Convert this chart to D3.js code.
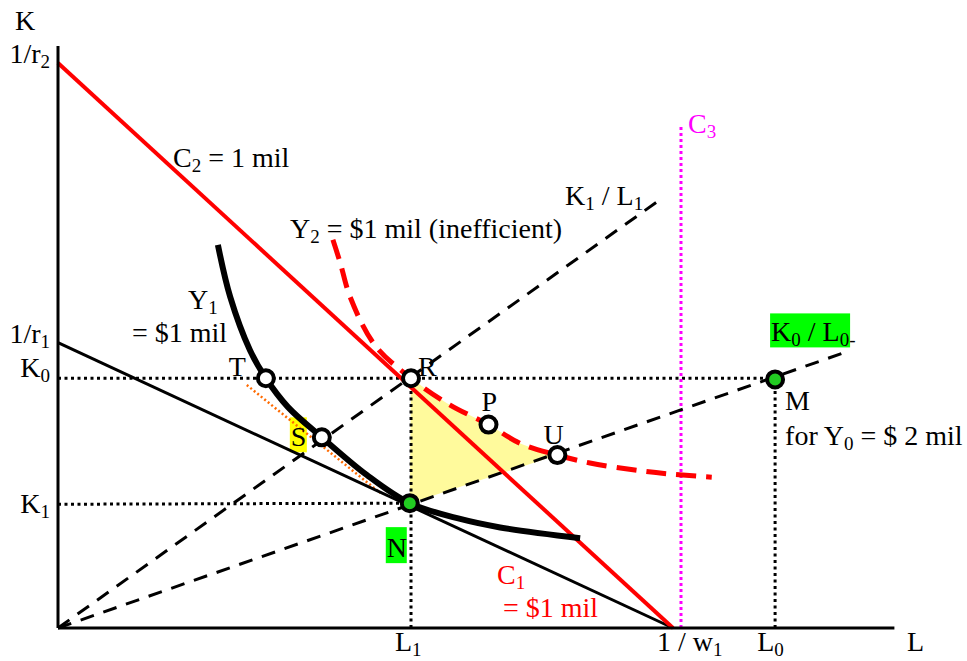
<!DOCTYPE html>
<html>
<head>
<meta charset="utf-8">
<script src="https://cdn.jsdelivr.net/npm/d3@7"></script>
<style>
  body { margin: 0; background: #fff; }
</style>
</head>
<body>
<div class="diagram"></div>
<script>
var width = 967, height = 661;
var serif = '"Liberation Serif", "Times New Roman", Times, "DejaVu Serif", serif';

// axis extents and intercepts (L and K units)
var lMax = 13.6, kMax = 10.3;
var wInv1 = 10, rInv2 = 10, rInv1 = 5.05;
var K0 = 4.42, K1 = 2.19, L1 = 5.74, L0 = 11.63, C3 = 10.13;

// named points
var T = [3.38, 4.42], R = [5.74, 4.42], S = [4.29, 3.375], N = [5.72, 2.21],
    P = [7.0, 3.6], U = [8.12, 3.06], M = [11.66, 4.40];

// isoquant Y1 = $1 mil
var y1Curve = [[2.60, 6.78], [2.80, 5.86], [3.12, 4.92], T, [3.74, 3.91], S,
  [5.02, 2.71], N, [6.54, 1.93], [7.19, 1.78], [8.49, 1.59]];

// isoquant Y2 = $1 mil (inefficient)
var y2Curve = [[4.47, 6.87], [4.59, 6.46], [4.75, 5.86], [5.15, 5.01], R,
  [6.37, 3.95], P, [7.51, 3.27], U, [8.65, 2.92], [9.35, 2.80], [9.90, 2.73], [10.63, 2.67]];
var y2Shade = [R, [6.37, 3.95], P, [7.51, 3.27], U];

// rays from the origin
var rayK1L1 = [[0, 0], [9.75, 7.55]];
var rayK0L0 = [[0, 0], [12.8, 4.88]];
var tangentS = [[3.07, 4.30], [5.24, 2.39]];

var kTicks = [
  { value: rInv2, parts: [['1/r'], ['2', 1]] },
  { value: rInv1, parts: [['1/r'], ['1', 1]] },
  { value: K0, parts: [['K'], ['0', 1]] },
  { value: K1, parts: [['K'], ['1', 1]] }
];
var lTicks = [
  { value: L1, parts: [['L'], ['1', 1]] },
  { value: wInv1, parts: [['1 / w'], ['1', 1]] },
  { value: L0, parts: [['L'], ['0', 1]] }
];

var x = d3.scaleLinear().domain([0, 10]).range([58, 673]);
var y = d3.scaleLinear().domain([0, 10]).range([628, 63]);

var svg = d3.select('.diagram')
  .append('svg')
  .attr('width', width)
  .attr('height', height);

var line = d3.line().x(function(d) { return x(d[0]); }).y(function(d) { return y(d[1]); });
var smooth = d3.line().x(function(d) { return x(d[0]); }).y(function(d) { return y(d[1]); })
  .curve(d3.curveCatmullRom.alpha(0.5));

function seg(p, q, color, w, dash) {
  return svg.append('path')
    .attr('d', line([p, q]))
    .attr('stroke', color)
    .attr('stroke-width', w)
    .attr('fill', 'none')
    .attr('stroke-dasharray', dash || null);
}

function label(px, py, parts, color, anchor) {
  var t = svg.append('text')
    .attr('x', px).attr('y', py)
    .attr('font-family', serif)
    .attr('font-size', 28)
    .attr('fill', color || '#000')
    .attr('text-anchor', anchor || 'start');
  var down = false;
  parts.forEach(function(p) {
    var ts = t.append('tspan').text(p[0]);
    if (p[1] && !down) { ts.attr('dy', 5).attr('font-size', 19); down = true; }
    else if (p[1]) { ts.attr('font-size', 19); }
    else if (down) { ts.attr('dy', -5); down = false; }
  });
  return t;
}

// yellow shaded region
svg.append('path')
  .attr('d', smooth(y2Shade) + 'L' + x(N[0]) + ',' + y(N[1]) + 'Z')
  .attr('fill', '#fffa9c');

// small yellow and green label boxes
svg.append('rect').attr('x', x(S[0]) - 32).attr('y', y(S[1]) - 20).attr('width', 17).attr('height', 35).attr('fill', '#ffff00');
svg.append('rect').attr('x', x(N[0]) - 24).attr('y', y(N[1]) + 24).attr('width', 21).attr('height', 36).attr('fill', '#00ff00');
svg.append('rect').attr('x', x(M[0]) - 5).attr('y', y(M[1]) - 66).attr('width', 80).attr('height', 34).attr('fill', '#00ff00');

// dotted guide lines
var dot = '3,3.5';
seg([0, K0], [M[0], K0], '#000', 3, dot);
seg([0, K1], N, '#000', 3, dot);
seg([L1, 0], [L1, K0], '#000', 3, dot);
seg([L0 + 0.03, 0], [L0 + 0.03, M[1]], '#000', 3, dot);
seg([C3, 0], [C3, 8.88], '#ff00ff', 3, '3,3');
seg(tangentS[0], tangentS[1], '#ff6a00', 2.5, '2,2.5');

// dashed rays
seg(rayK1L1[0], rayK1L1[1], '#000', 3, '14,10');
seg(rayK0L0[0], rayK0L0[1], '#000', 3, '14,10');

// budget lines
seg([0, rInv1], [wInv1, 0], '#000', 3);
seg([0, rInv2], [wInv1, 0], '#ff0000', 4);

// isoquants
svg.append('path').attr('d', smooth(y2Curve)).attr('fill', 'none')
  .attr('stroke', '#ff0000').attr('stroke-width', 5).attr('stroke-dasharray', '20,10');
svg.append('path').attr('d', smooth(y1Curve)).attr('fill', 'none')
  .attr('stroke', '#000').attr('stroke-width', 6);

// axes
seg([0, 0], [0, kMax], '#000', 3);
seg([0, 0], [lMax, 0], '#000', 3);

// points
[T, R, S, P, U, N, M].forEach(function(p) {
  svg.append('circle')
    .attr('cx', x(p[0])).attr('cy', y(p[1])).attr('r', 8)
    .attr('fill', (p === N || p === M) ? '#22cc22' : '#fff')
    .attr('stroke', '#000').attr('stroke-width', 4);
});

// axis labels
label(15, 30, [['K']]);
label(907, 651, [['L']]);
kTicks.forEach(function(t) {
  var off = t.value === K1 ? 9 : (t.value === K0 ? -1 : 0);
  label(x(0) - 8, y(t.value) + off, t.parts, '#000', 'end');
});
lTicks.forEach(function(t) {
  label(x(t.value) - 16, 651, t.parts);
});

// annotations
label(173, 167, [['C'], ['2', 1], [' = 1 mil']]);
label(290, 238, [['Y'], ['2', 1], [' = $1 mil (inefficient)']]);
label(565, 205, [['K'], ['1', 1], [' / L'], ['1', 1]]);
label(x(C3) + 7, 133, [['C'], ['3', 1]], '#ff00ff');
label(188, 309, [['Y'], ['1', 1]]);
label(132, 342, [['= $1 mil']]);
label(x(T[0]) - 37, y(T[1]) - 2, [['T']]);
label(x(R[0]) + 7, y(R[1]) - 2, [['R']]);
label(x(S[0]) - 31, y(S[1]) + 9, [['S']]);
label(x(N[0]) - 23, y(N[1]) + 54, [['N']]);
label(x(P[0]) - 7, y(P[1]) - 14, [['P']]);
label(x(U[0]) - 14, y(U[1]) - 11, [['U']]);
label(x(M[0]) - 4, y(M[1]) - 38, [['K'], ['0', 1], [' / L'], ['0-', 1]]);
label(x(M[0]) + 10, y(M[1]) + 31, [['M']]);
label(x(M[0]) + 10, y(M[1]) + 66, [['for Y'], ['0', 1], [' = $ 2 mil']]);
label(497, 584, [['C'], ['1', 1]], '#ff0000');
label(503, 617, [['= $1 mil']], '#ff0000');
</script>
</body>
</html>
